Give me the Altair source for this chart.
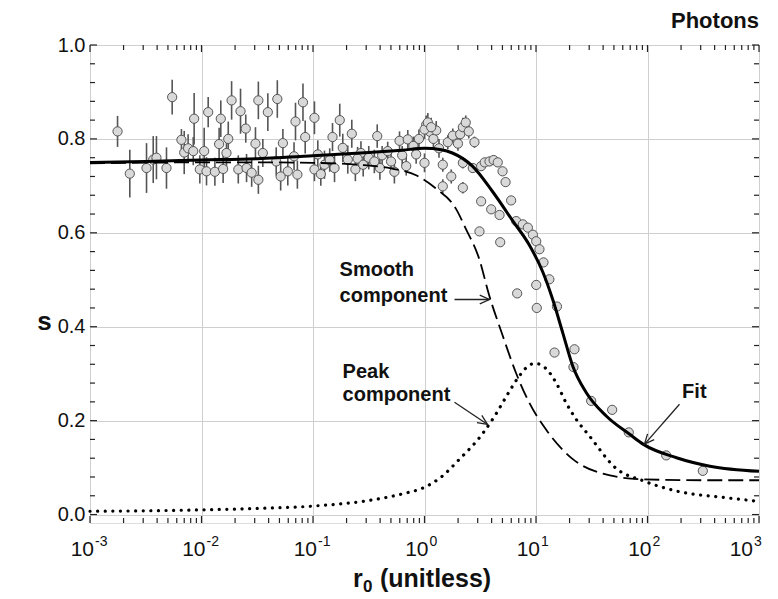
import altair as alt
import pandas as pd

# ---------------- data ----------------
# measured points: log10(r0), s, error half-width
pt_logr = [-2.753, -2.643, -2.493, -2.433, -2.404, -2.314, -2.263, -2.180, -2.155, -2.120,
           -2.066, -2.074, -2.015, -1.976, -1.940, -1.955, -1.880, -1.827, -1.842, -1.806,
           -1.760, -1.730, -1.776, -1.650, -1.603, -1.670, -1.596, -1.550, -1.516, -1.490,
           -1.490, -1.405, -1.320, -1.450, -1.270, -1.226, -1.157, -1.090, -1.140, -1.070,
           -0.987, -1.170, -0.957, -0.897, -0.825, -0.807, -0.760, -0.733, -0.652, -0.688,
           -1.330, -1.290, -0.987, -0.930, -0.850, -0.620, -0.570, -0.400, -0.270,
           -0.600, -0.550, -0.500, -0.450, -0.424, -0.380, -0.330, -0.300, -0.224, -0.200,
           -0.150, -0.164, -0.100, -0.075, -0.050, 0.000, 0.015, 0.050, 0.080, 0.105,
           0.130, 0.164, 0.164, 0.209, 0.254, 0.240, 0.300, 0.320, 0.344, 0.370,
           0.397, 0.448, 0.344, 0.344, 0.433, 0.508, 0.540, 0.583, 0.620, 0.657,
           0.700, 0.727, 0.000, 0.030, 0.060,
           0.508, 0.598, 0.673, 0.777, 0.493, 0.679, 0.822, 0.882, 0.927, 0.972,
           1.002, 1.031, 1.067, 1.120, 1.002, 0.831, 1.007, 1.188, 1.166, 1.345,
           1.336, 1.495, 1.683, 1.832, 2.168, 2.496]
pt_s = [0.816, 0.726, 0.738, 0.756, 0.760, 0.738, 0.889, 0.798, 0.771, 0.780,
        0.843, 0.774, 0.735, 0.774, 0.857, 0.731, 0.730, 0.843, 0.789, 0.736,
        0.800, 0.882, 0.770, 0.859, 0.822, 0.735, 0.738, 0.728, 0.790, 0.882,
        0.713, 0.857, 0.885, 0.770, 0.791, 0.731, 0.837, 0.878, 0.724, 0.804,
        0.845, 0.763, 0.767, 0.745, 0.804, 0.738, 0.840, 0.781, 0.811, 0.756,
        0.752, 0.720, 0.735, 0.725, 0.755, 0.735, 0.770, 0.738, 0.730,
        0.758, 0.745, 0.760, 0.752, 0.806, 0.765, 0.774, 0.752, 0.796, 0.765,
        0.799, 0.742, 0.785, 0.767, 0.800, 0.749, 0.830, 0.815, 0.800, 0.818,
        0.780, 0.745, 0.699, 0.793, 0.807, 0.720, 0.790, 0.810, 0.825, 0.835,
        0.816, 0.793, 0.749, 0.696, 0.738, 0.742, 0.750, 0.752, 0.755, 0.750,
        0.731, 0.708, 0.820, 0.835, 0.825,
        0.667, 0.650, 0.638, 0.669, 0.603, 0.580, 0.625, 0.618, 0.611, 0.596,
        0.582, 0.565, 0.537, 0.501, 0.489, 0.471, 0.440, 0.443, 0.345, 0.352,
        0.314, 0.242, 0.223, 0.175, 0.126, 0.093]
pt_err = [0.033, 0.051, 0.053, 0.050, 0.046, 0.044, 0.037, 0.023, 0.046, 0.030,
          0.055, 0.030, 0.030, 0.050, 0.032, 0.030, 0.030, 0.039, 0.035, 0.030,
          0.037, 0.041, 0.030, 0.048, 0.030, 0.030, 0.030, 0.030, 0.035, 0.040,
          0.030, 0.040, 0.040, 0.030, 0.030, 0.030, 0.040, 0.040, 0.030, 0.035,
          0.035, 0.030, 0.030, 0.030, 0.030, 0.030, 0.035, 0.030, 0.030, 0.030,
          0.030, 0.030, 0.025, 0.025, 0.025, 0.025, 0.025, 0.025, 0.025,
          0.025, 0.025, 0.025, 0.025, 0.025, 0.020, 0.020, 0.020, 0.020, 0.020,
          0.020, 0.020, 0.020, 0.020, 0.020, 0.020, 0.020, 0.020, 0.020, 0.020,
          0.020, 0.015, 0.015, 0.015, 0.015, 0.015, 0.015, 0.015, 0.020, 0.015,
          0.015, 0.012, 0.012, 0.012, 0.010, 0.010, 0.010, 0.010, 0.010, 0.010,
          0.008, 0.008, 0.020, 0.020, 0.020,
          0, 0, 0, 0, 0, 0, 0, 0, 0, 0,
          0, 0, 0, 0, 0, 0, 0, 0, 0, 0,
          0, 0, 0, 0, 0, 0]

fit_logr = [-3.0, -2.5, -2.0, -1.5, -1.0, -0.5, -0.2, 0.0, 0.15, 0.25, 0.43, 0.61, 0.79,
            0.94, 1.06, 1.15, 1.24, 1.33, 1.45, 1.63, 1.84, 1.96, 2.26, 2.56, 3.0]
fit_s = [0.750, 0.752, 0.755, 0.758, 0.764, 0.771, 0.776, 0.780, 0.777, 0.770, 0.742, 0.688, 0.626,
         0.574, 0.517, 0.458, 0.387, 0.316, 0.260, 0.210, 0.171, 0.150, 0.121, 0.103, 0.092]

smooth_logr = [-3.0, -2.0, -1.5, -1.0, -0.6, -0.3, -0.07, 0.10, 0.28, 0.37, 0.49, 0.58, 0.70,
               0.82, 0.94, 1.09, 1.33, 1.57, 1.96, 2.5, 3.0]
smooth_s = [0.748, 0.750, 0.750, 0.749, 0.745, 0.737, 0.722, 0.695, 0.652, 0.609, 0.545, 0.467, 0.382,
            0.302, 0.238, 0.181, 0.118, 0.089, 0.075, 0.073, 0.073]

peak_logr = [-3.0, -2.5, -2.0, -1.5, -1.0, -0.5, -0.2, 0.0, 0.15, 0.31, 0.52, 0.63, 0.75, 0.85,
             0.94, 0.99, 1.08, 1.18, 1.27, 1.36, 1.48, 1.72, 1.96, 2.26, 2.7, 3.0]
peak_s = [0.007, 0.008, 0.010, 0.013, 0.018, 0.030, 0.044, 0.058, 0.080, 0.117, 0.172, 0.210, 0.258, 0.295,
          0.318, 0.322, 0.313, 0.281, 0.238, 0.203, 0.167, 0.098, 0.072, 0.050, 0.036, 0.028]

decade_exps = ["-3", "-2", "-1", "0", "1", "2", "3"]
decades = [1e-3, 1e-2, 1e-1, 1e0, 1e1, 1e2, 1e3]
y_major = [0.0, 0.2, 0.4, 0.6, 0.8, 1.0]

# annotations (log10 r0, s)
ann_text = ["Smooth", "component", "Peak", "component", "Fit"]
ann_logr = [-0.762, -0.762, -0.735, -0.735, 2.42]
ann_s = [0.52, 0.465, 0.303, 0.254, 0.26]
ann_align = ["left", "left", "left", "left", "center"]

arrow_id = ["smooth", "smooth", "peak", "peak", "fit", "fit"]
arrow_logr = [0.269, 0.578, 0.269, 0.560, 2.287, 1.978]
arrow_s = [0.458, 0.458, 0.239, 0.193, 0.235, 0.151]
head_logr = [0.583, 0.565, 1.973]
head_s = [0.458, 0.192, 0.150]
head_angle = [0, 33.7, 131]

# ---------------- chart ----------------
W, H = 669, 478
FONT = "Liberation Sans"
INK = "#111"
xscale = alt.Scale(type="log", domain=[1e-3, 1e3], nice=False)
yscale = alt.Scale(domain=[-0.018, 1.0], nice=False, zero=False)

xaxis = alt.Axis(values=decades, grid=True, gridColor="#cfcfcf", gridWidth=1, labels=False,
                 ticks=False, domain=False, title="")
yaxis = alt.Axis(values=y_major, grid=True, gridColor="#cfcfcf", gridWidth=1, format=".1f",
                 labelFont=FONT, labelFontSize=20, labelColor=INK, labelPadding=5,
                 ticks=False, domain=False, title="s", titleFont=FONT, titleFontSize=26,
                 titleFontWeight="bold", titleColor=INK, titleAngle=0, titleX=-46,
                 titleY=276, titleBaseline="middle", titleAlign="center")


def X(field):
    return alt.X(f"{field}:Q", scale=xscale, axis=xaxis)


def Y(field):
    return alt.Y(f"{field}:Q", scale=yscale, axis=yaxis)


pts = pd.DataFrame({"L": pt_logr, "s": pt_s, "e": pt_err})
pbase = alt.Chart(pts).transform_calculate(
    r="pow(10, datum.L)", lo="datum.s - datum.e", hi="datum.s + datum.e")

errbars = pbase.transform_filter("datum.e > 0").mark_rule(color="#555", strokeWidth=1.6).encode(
    x=X("r"), y=Y("lo"), y2="hi:Q")
points = pbase.mark_point(filled=True, fill="#d9d9d9", stroke="#555", strokeWidth=1,
                          size=85, opacity=1, shape="circle").encode(x=X("r"), y=Y("s"))


def curve(lr, sv):
    return alt.Chart(pd.DataFrame({"L": lr, "s": sv})).transform_calculate(r="pow(10, datum.L)")


fit = curve(fit_logr, fit_s).mark_line(color="black", strokeWidth=3, interpolate="monotone").encode(
    x=X("r"), y=Y("s"), order="L:Q")
smooth = curve(smooth_logr, smooth_s).mark_line(color="black", strokeWidth=1.8, strokeDash=[15, 6],
                                                interpolate="monotone").encode(x=X("r"), y=Y("s"), order="L:Q")
peak = curve(peak_logr, peak_s).mark_line(color="black", strokeWidth=3.2, strokeDash=[0.1, 7.5],
                                          strokeCap="round", interpolate="monotone").encode(
    x=X("r"), y=Y("s"), order="L:Q")

# inside ticks on all four sides
major_x = pd.DataFrame({"r": decades})
minor_x = pd.DataFrame({"r": [m * d for d in decades[:-1] for m in range(2, 10)]})
major_y = pd.DataFrame({"v": y_major})
minor_y = pd.DataFrame({"v": [round(0.04 * i, 2) for i in range(26) if (i % 5) != 0]})

tick_style = dict(color="#222", strokeWidth=1.2)
ticks = []
for df, ln in [(major_x, 7), (minor_x, 5)]:
    ticks.append(alt.Chart(df).mark_rule(**tick_style).encode(x=X("r"), y=alt.value(H), y2=alt.value(H - ln)))
    ticks.append(alt.Chart(df).mark_rule(**tick_style).encode(x=X("r"), y=alt.value(0), y2=alt.value(ln)))
for df, ln in [(major_y, 7), (minor_y, 5)]:
    ticks.append(alt.Chart(df).mark_rule(**tick_style).encode(y=Y("v"), x=alt.value(0), x2=alt.value(ln)))
    ticks.append(alt.Chart(df).mark_rule(**tick_style).encode(y=Y("v"), x=alt.value(W - ln), x2=alt.value(W)))

# x tick labels 10^k with superscript exponent
xl = pd.DataFrame({"r": decades, "e": decade_exps})
xl_main = xl.iloc[:-1]
xl_last = xl.iloc[-1:]


def xlabels(df, shift):
    base = alt.Chart(df)
    ten = base.mark_text(font=FONT, fontSize=21, color=INK, align="right", baseline="alphabetic",
                         dx=4 + shift).encode(x=X("r"), y=alt.value(H + 33), text=alt.value("10"))
    ex = base.mark_text(font=FONT, fontSize=14, color=INK, align="left", baseline="alphabetic",
                        dx=5 + shift).encode(x=X("r"), y=alt.value(H + 23), text="e:N")
    return [ten, ex]


xlabel_layers = xlabels(xl_main, 0) + xlabels(xl_last, -10)

# x-axis title "r0 (unitless)" with a real subscript 0
xt_parts = ["r", "0", "(unitless)"]
xt_size = [25, 17, 25]
xt_x = [263, 273, 290]
xt_y = [H + 64, H + 69, H + 64]
xtitle = []
for t, fs, px, py in zip(xt_parts, xt_size, xt_x, xt_y):
    xtitle.append(alt.Chart(pd.DataFrame({"t": [t]})).mark_text(
        font=FONT, fontSize=fs, fontWeight="bold", color=INK, align="left", baseline="alphabetic").encode(
        x=alt.value(px), y=alt.value(py), text="t:N"))

# annotations
ann = pd.DataFrame({"L": ann_logr, "s": ann_s, "t": ann_text, "a": ann_align})
ann_left = alt.Chart(ann).transform_filter("datum.a == 'left'").transform_calculate(
    r="pow(10, datum.L)").mark_text(font=FONT, fontSize=20, fontWeight="bold", color=INK,
                                    align="left", baseline="middle").encode(x=X("r"), y=Y("s"), text="t:N")
ann_center = alt.Chart(ann).transform_filter("datum.a == 'center'").transform_calculate(
    r="pow(10, datum.L)").mark_text(font=FONT, fontSize=20, fontWeight="bold", color=INK,
                                    align="center", baseline="middle").encode(x=X("r"), y=Y("s"), text="t:N")

arr = pd.DataFrame({"id": arrow_id, "L": arrow_logr, "s": arrow_s})
shafts = alt.Chart(arr).transform_calculate(r="pow(10, datum.L)").mark_line(
    color="#222", strokeWidth=1.3).encode(x=X("r"), y=Y("s"), detail="id:N")
heads_df = pd.DataFrame({"L": head_logr, "s": head_s, "ang": head_angle})
heads = alt.Chart(heads_df).transform_calculate(r="pow(10, datum.L)").mark_point(
    shape="M-1,-0.45L0,0L-1,0.45", filled=False, stroke="#222", strokeWidth=1.3, size=380,
    opacity=1).encode(x=X("r"), y=Y("s"), angle=alt.Angle("ang:Q", scale=None))

title = alt.Chart(pd.DataFrame({"t": ["Photons"]})).mark_text(
    font=FONT, fontSize=22, fontWeight="bold", color=INK, align="right", baseline="alphabetic").encode(
    x=alt.value(W), y=alt.value(-17), text="t:N")

chart = alt.layer(
    errbars, points, smooth, peak, fit, *ticks, *xlabel_layers, *xtitle, ann_left, ann_center,
    shafts, heads, title
).properties(
    width=W, height=H,
    autosize=alt.AutoSizeParams(type="none"),
    padding={"left": 82, "top": 37, "right": 11, "bottom": 76},
).configure_view(stroke="#222", strokeWidth=1.6).configure(background="white")

chart.save("out.html", embed_options={"renderer": "svg", "actions": False})
